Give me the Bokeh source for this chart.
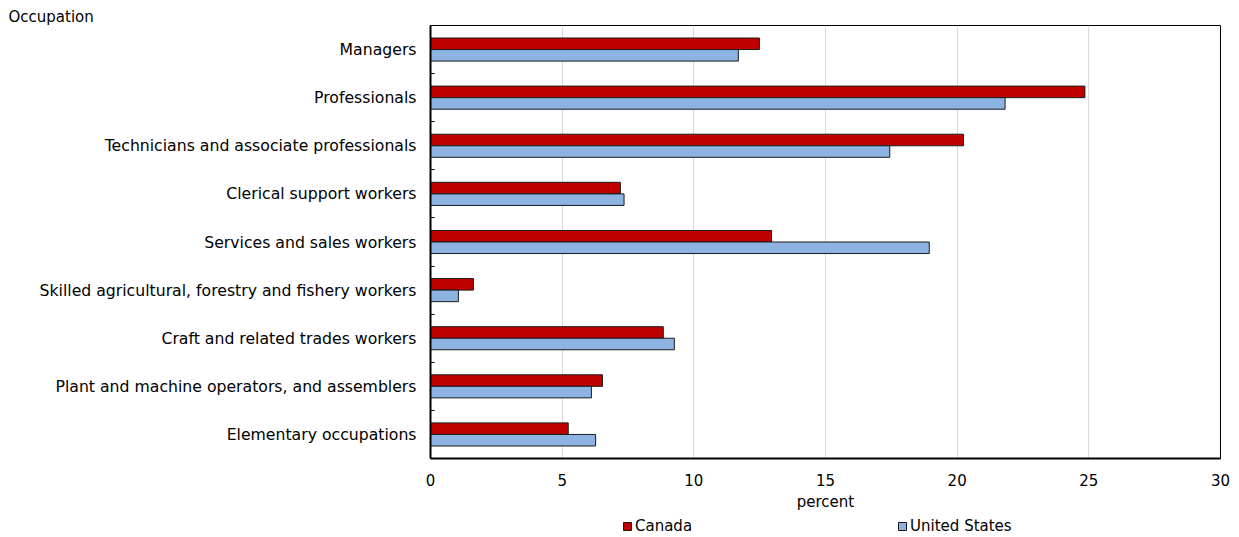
from bokeh.plotting import figure
from bokeh.models import (ColumnDataSource, Range1d, FixedTicker, Legend, LegendItem)
from bokeh.layouts import column
from bokeh.transform import dodge
from bokeh.embed import file_html
from bokeh.resources import INLINE

occupations = [
    "Managers",
    "Professionals",
    "Technicians and associate professionals",
    "Clerical support workers",
    "Services and sales workers",
    "Skilled agricultural, forestry and fishery workers",
    "Craft and related trades workers",
    "Plant and machine operators, and assemblers",
    "Elementary occupations",
]
canada = [12.49, 24.85, 20.24, 7.21, 12.95, 1.63, 8.84, 6.53, 5.23]
united_states = [11.69, 21.82, 17.44, 7.35, 18.94, 1.06, 9.26, 6.11, 6.27]
x_ticks = [0, 5, 10, 15, 20, 25, 30]
series_names = ["Canada", "United States"]

FONT = "DejaVu Sans"
FS = "15px"
FS_CAT = "15.7px"
RED = "#C00000"
BLUE = "#8DB3E2"
EDGE = "#1a1a1a"

pos = list(range(len(occupations)))
source = ColumnDataSource(dict(pos=pos, occ=occupations, canada=canada, us=united_states))

p = figure(frame_width=790, frame_height=433,
           output_backend="svg", toolbar_location=None,
           x_range=Range1d(0, 30), y_range=Range1d(len(occupations) - 0.5, -0.5),
           min_border_left=430, min_border_right=15, min_border_top=25, min_border_bottom=56,
           title="Occupation")
p.background_fill_color = "white"
p.border_fill_color = "white"
p.outline_line_color = "black"
p.outline_line_width = 1

p.title.align = "left"
p.title.offset = -422
p.title.standoff = 0
p.title.text_font = FONT
p.title.text_font_size = FS
p.title.text_font_style = "normal"
p.title.text_color = "black"

p.hbar(y=dodge("pos", -0.12), right="canada", left=0, height=0.24, source=source,
       fill_color=RED, line_color=EDGE, line_width=1)
p.hbar(y=dodge("pos", 0.12), right="us", left=0, height=0.24, source=source,
       fill_color=BLUE, line_color=EDGE, line_width=1)

# x axis
p.xaxis.ticker = FixedTicker(ticks=x_ticks)
p.xaxis.axis_label = "percent"
p.xaxis.axis_label_text_font = FONT
p.xaxis.axis_label_text_font_size = FS
p.xaxis.axis_label_text_font_style = "normal"
p.xaxis.axis_label_text_color = "black"
p.xaxis.axis_label_standoff = 4
p.xaxis.major_label_text_font = FONT
p.xaxis.major_label_text_font_size = FS
p.xaxis.major_label_text_color = "black"
p.xaxis.major_label_standoff = 15
p.xaxis.major_tick_in = 0
p.xaxis.major_tick_out = 0
p.xaxis.minor_tick_in = 0
p.xaxis.minor_tick_out = 0
p.xaxis.axis_line_color = "black"
p.xaxis.axis_line_width = 2

# y axis
p.yaxis.ticker = FixedTicker(ticks=pos, minor_ticks=[i + 0.5 for i in pos[:-1]])
p.yaxis.major_label_overrides = {i: name for i, name in zip(pos, occupations)}
p.yaxis.major_label_text_font = FONT
p.yaxis.major_label_text_font_size = FS_CAT
p.yaxis.major_label_text_color = "black"
p.yaxis.major_label_standoff = 14
p.yaxis.major_tick_in = 0
p.yaxis.major_tick_out = 0
p.yaxis.minor_tick_in = 4
p.yaxis.minor_tick_out = 0
p.yaxis.minor_tick_line_color = "black"
p.yaxis.minor_tick_line_width = 1
p.yaxis.axis_line_color = "black"
p.yaxis.axis_line_width = 2

# grid
p.xgrid.ticker = FixedTicker(ticks=x_ticks)
p.xgrid.grid_line_color = "#d9d9d9"
p.xgrid.grid_line_width = 1
p.ygrid.grid_line_color = None

# legend strip below the chart (its frame is aligned with the main frame by the column)
lg = figure(width=1235, height=24, output_backend="svg", toolbar_location=None,
            x_range=Range1d(0, 30), y_range=Range1d(len(occupations) - 0.5, -0.5),
            x_axis_type=None, y_axis_type=None, min_border=0)
lg.outline_line_color = None
lg.background_fill_color = "white"
lg.border_fill_color = "white"
lg.xgrid.grid_line_color = None
lg.ygrid.grid_line_color = None
l_ca = lg.hbar(y="pos", right="canada", left=0, height=0.24, source=source,
               fill_color=RED, line_color=EDGE, line_width=1, visible=False)
l_us = lg.hbar(y="pos", right="us", left=0, height=0.24, source=source,
               fill_color=BLUE, line_color=EDGE, line_width=1, visible=False)
legend = Legend(items=[LegendItem(label=series_names[0], renderers=[l_ca]),
                       LegendItem(label=series_names[1], renderers=[l_us])],
                orientation="horizontal", location=(192, 3), spacing=205,
                glyph_width=10, glyph_height=10, label_standoff=3, padding=0, margin=0,
                label_height=16, inactive_fill_alpha=0,
                border_line_color=None, background_fill_alpha=0,
                label_text_font=FONT, label_text_font_size=FS, label_text_color="black")
lg.add_layout(legend)

layout = column(p, lg, spacing=0)
open("out.html", "w").write(file_html(layout, INLINE))
